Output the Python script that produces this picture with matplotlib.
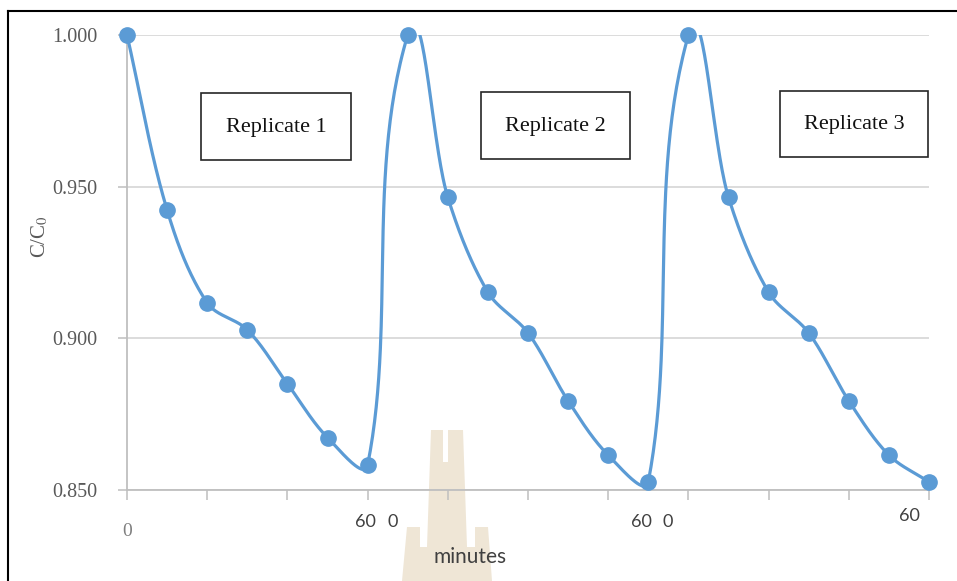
import numpy as np
import matplotlib
matplotlib.use("Agg")
import matplotlib.pyplot as plt
from matplotlib.patches import Rectangle, Polygon

# C/C0 readings taken every 10 minutes, three consecutive runs
minutes = [0, 10, 20, 30, 40, 50, 60]
rep1 = [1.000, 0.9423, 0.9117, 0.9028, 0.8850, 0.8673, 0.8582]
rep2 = [1.000, 0.9465, 0.9152, 0.9018, 0.8794, 0.8615, 0.8527]
rep3 = [1.000, 0.9465, 0.9152, 0.9018, 0.8794, 0.8615, 0.8527]
replicate_names = ["Replicate 1", "Replicate 2", "Replicate 3"]
y_ticks = [0.850, 0.900, 0.950, 1.000]

W, H = 957, 581
fig = plt.figure(figsize=(W / 100, H / 100), dpi=100)
fig.patch.set_facecolor("white")

SERIF = ["Liberation Serif", "DejaVu Serif"]
SANS = ["Lato", "DejaVu Sans"]
plt.rcParams["mathtext.fontset"] = "stix"


def fx(px):
    return px / W


def fy(py):
    return 1 - py / H


# plot area
AX_L, AX_R, AX_T, AX_B = 127, 929, 35, 490
ax = fig.add_axes([fx(AX_L), fy(AX_B), (AX_R - AX_L) / W, (AX_B - AX_T) / H])
ax.set_zorder(1)
ax.patch.set_visible(False)

XMIN, XMAX, YMIN, YMAX = 0, 20, 0.85, 1.0
values = np.array(rep1 + rep2 + rep3, dtype=float)
pos = np.arange(len(values), dtype=float)

# smoothed line: cubic Bezier segments built in screen proportions,
# tangent along the neighbour chord, handle length a third of each segment
sx = (AX_R - AX_L) / (XMAX - XMIN)
sy = (AX_B - AX_T) / (YMAX - YMIN)
P = np.column_stack([pos * sx, values * sy])
n = len(P)
dirs = np.zeros_like(P)
for i in range(n):
    a = P[max(i - 1, 0)]
    b = P[min(i + 1, n - 1)]
    d = b - a
    dirs[i] = d / np.hypot(*d)
t = np.linspace(0, 1, 60)[:, None]
curve = []
for i in range(n - 1):
    L = np.hypot(*(P[i + 1] - P[i]))
    c1 = P[i] + dirs[i] * L / 3
    c2 = P[i + 1] - dirs[i + 1] * L / 3
    seg = ((1 - t) ** 3) * P[i] + 3 * ((1 - t) ** 2) * t * c1 \
        + 3 * (1 - t) * t ** 2 * c2 + t ** 3 * P[i + 1]
    curve.append(seg)
curve = np.vstack(curve)
cx = curve[:, 0] / sx
cy = curve[:, 1] / sy

blue = "#5b9bd5"
ax.plot(cx, cy, color=blue, lw=2.3, solid_capstyle="round", zorder=3)
ax.plot(pos, values, "o", color=blue, ms=11, clip_on=False, zorder=4)

ax.set_xlim(XMIN, XMAX)
ax.set_ylim(YMIN, YMAX)
ax.set_yticks(y_ticks)
ax.set_yticklabels([f"{v:.3f}" for v in y_ticks], fontfamily=SERIF, fontsize=14.5, color="#595959")
ax.set_xticks(np.arange(0, 21, 2))
ax.set_xticklabels([])
ax.tick_params(axis="y", length=6.5, width=1.1, color="#bfbfbf", pad=15)
ax.tick_params(axis="x", length=7, width=1.1, color="#bfbfbf", direction="out")
ax.yaxis.grid(True, color="#d9d9d9", lw=1.3)
ax.set_axisbelow(True)
for s in ["top", "right"]:
    ax.spines[s].set_visible(False)
for s in ["left", "bottom"]:
    ax.spines[s].set_color("#bfbfbf")
    ax.spines[s].set_linewidth(1.3)

# y-axis title
fig.text(fx(40), fy(237), r"C/C$_0$", rotation=90, ha="center", va="center",
         fontfamily=SERIF, fontsize=15, color="#595959")

# x-axis labels
fig.text(fx(127), fy(531), "0", ha="center", va="center", fontfamily=SERIF,
         fontsize=14, color="#7f7f7f")
for x, y, s in [(365, 522, "60"), (393, 522, "0"), (641.5, 522, "60"),
                (668, 522, "0"), (909, 516, "60")]:
    fig.text(fx(x), fy(y), s, ha="center", va="center", fontfamily=SANS,
             fontsize=13, color="#404040", zorder=3)
fig.text(fx(470), fy(557), "minutes", ha="center", va="center", fontfamily=SANS,
         fontsize=15, color="#404040", zorder=3)

# replicate labels in boxes
boxes = [(201, 93, 351, 160), (481, 92, 630, 159), (780, 91, 928, 157)]
for (x0, y0, x1, y1), name in zip(boxes, replicate_names):
    fig.patches.append(Rectangle((fx(x0), fy(y1)), fx(x1 - x0), (y1 - y0) / H,
                                 transform=fig.transFigure, facecolor="white",
                                 edgecolor="#262626", lw=1.2, zorder=5))
    fig.text(fx((x0 + x1) / 2), fy((y0 + y1) / 2 + 1), name, ha="center", va="center",
             fontfamily=SERIF, fontsize=16, color="#111111", zorder=6)

# faint emblem near the bottom
emblem = [(431, 430), (443, 430), (443, 462), (448, 462), (448, 430), (463, 430),
          (467, 547), (475, 547), (475, 527), (488, 527), (492, 581),
          (402, 581), (407, 527), (420, 527), (420, 547), (427, 547)]
fig.patches.append(Polygon([(fx(x), fy(y)) for x, y in emblem], closed=True,
                           transform=fig.transFigure, facecolor="#efe6d6",
                           edgecolor="none", zorder=0.5))

# frame lines
fig.add_artist(plt.Line2D([fx(8), fx(957)], [fy(11), fy(11)], color="black", lw=1.5,
                          transform=fig.transFigure))
fig.add_artist(plt.Line2D([fx(8), fx(8)], [fy(11), fy(581)], color="black", lw=1.5,
                          transform=fig.transFigure))

fig.savefig("out.png", dpi=100)
